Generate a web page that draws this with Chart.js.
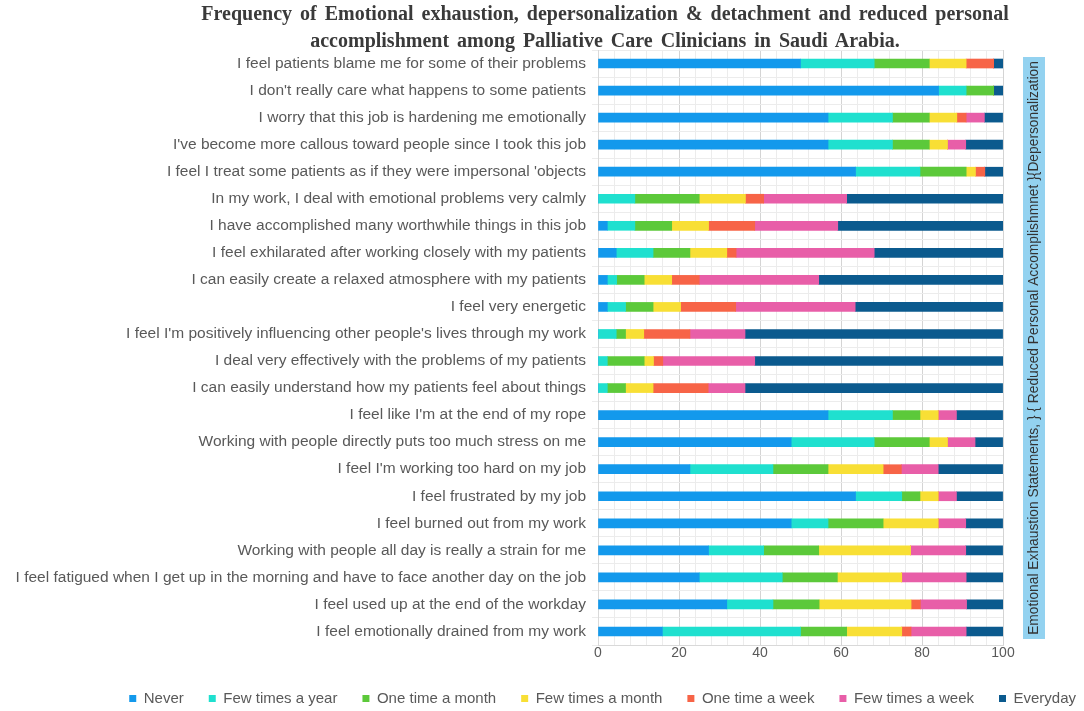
<!DOCTYPE html>
<html lang="en">
<head>
  <meta charset="UTF-8">
  <title>Burnout frequency among palliative care clinicians</title>
  <script src="https://cdn.jsdelivr.net/npm/chart.js"></script>
  <style>
    body {
      margin: 0;
      background: #fff;
    }
    #wrap {
      position: relative;
      width: 1084px;
      height: 711px;
      overflow: hidden;
    }
    #title {
      position: absolute;
      top: 0;
      left: 155px;
      width: 900px;
      text-align: center;
      font: bold 20px "Liberation Serif", serif;
      line-height: 27px;
      word-spacing: 3px;
      color: #3a3a3a;
    }
  </style>
</head>
<body>
  <div id="wrap">
    <canvas id="mbiChart" width="1084" height="711"></canvas>
    <div id="title">Frequency of Emotional exhaustion, depersonalization &amp; detachment and reduced personal<br>accomplishment among Palliative Care Clinicians in Saudi Arabia.</div>
  </div>

  <script>
    const statements = [
      "I feel patients blame me for some of their problems",
      "I don't really care what happens to some patients",
      "I worry that this job is hardening me emotionally",
      "I've become more callous toward people since I took this job",
      "I feel I treat some patients as if they were impersonal 'objects",
      "In my work, I deal with emotional problems very calmly",
      "I have accomplished many worthwhile things in this job",
      "I feel exhilarated after working closely with my patients",
      "I can easily create a relaxed atmosphere with my patients",
      "I feel very energetic",
      "I feel I'm positively influencing other people's lives through my work",
      "I deal very effectively with the problems of my patients",
      "I can easily understand how my patients feel about things",
      "I feel like I'm at the end of my rope",
      "Working with people directly puts too much stress on me",
      "I feel I'm working too hard on my job",
      "I feel frustrated by my job",
      "I feel burned out from my work",
      "Working with people all day is really a strain for me",
      "I feel fatigued when I get up in the morning and have to face another day on the job",
      "I feel used up at the end of the workday",
      "I feel emotionally drained from my work"
    ];

    // percentages, one value per statement (top to bottom)
    const never       = [50, 84.1, 56.8, 56.8, 63.6, 0, 2.3, 4.5, 2.3, 2.3, 0, 0, 0, 56.8, 47.7, 22.7, 63.6, 47.7, 27.3, 25, 31.8, 15.9];
    const fewYear     = [18.2, 6.8, 15.9, 15.9, 15.9, 9.1, 6.8, 9.1, 2.3, 4.5, 4.5, 2.3, 2.3, 15.9, 20.5, 20.5, 11.4, 9.1, 13.6, 20.5, 11.4, 34.1];
    const oneMonth    = [13.6, 6.8, 9.1, 9.1, 11.4, 15.9, 9.1, 9.1, 6.8, 6.8, 2.3, 9.1, 4.5, 6.8, 13.6, 13.6, 4.5, 13.6, 13.6, 13.6, 11.4, 11.4];
    const fewMonth    = [9.1, 0, 6.8, 4.5, 2.3, 11.4, 9.1, 9.1, 6.8, 6.8, 4.5, 2.3, 6.8, 4.5, 4.5, 13.6, 4.5, 13.6, 22.7, 15.9, 22.7, 13.6];
    const oneWeek     = [6.8, 0, 2.3, 0, 2.3, 4.5, 11.4, 2.3, 6.8, 13.6, 11.4, 2.3, 13.6, 0, 0, 4.5, 0, 0, 0, 0, 2.3, 2.3];
    const fewWeek     = [0, 0, 4.5, 4.5, 0, 20.5, 20.5, 34.1, 29.5, 29.5, 13.6, 22.7, 9.1, 4.5, 6.8, 9.1, 4.5, 6.8, 13.6, 15.9, 11.4, 13.6];
    const everyday    = [2.3, 2.3, 4.5, 9.1, 4.5, 38.6, 40.9, 31.8, 45.5, 36.4, 63.6, 61.4, 63.6, 11.4, 6.8, 15.9, 11.4, 9.1, 9.1, 9.1, 9.1, 9.1];

    const seriesNames = ["Never", "Few times a year", "One time a month", "Few times a month",
                         "One time a week", "Few times a week", "Everyday"];
    const seriesData = [never, fewYear, oneMonth, fewMonth, oneWeek, fewWeek, everyday];
    const seriesColors = ["#1399ec", "#1fe0cf", "#5cc93a", "#f8df35", "#f76447", "#e85ea8", "#0b5a8e"];

    const sideLabel = "Emotional Exhaustion Statements, } { Reduced Personal Accomplishmnet }{Depersonalization";

    const xTicks = [0, 20, 40, 60, 80, 100];

    // light blue box with the rotated group label on the right
    const sideLabelPlugin = {
      id: 'sideLabel',
      afterDraw(chart) {
        const ctx = chart.ctx;
        const area = chart.chartArea;
        const x = area.right + 20;
        const top = area.top + 7;
        const bottom = area.bottom - 6;
        ctx.save();
        ctx.fillStyle = '#93d2f0';
        ctx.fillRect(x, top, 22, bottom - top);
        ctx.translate(x + 11, (top + bottom) / 2);
        ctx.rotate(-Math.PI / 2);
        ctx.fillStyle = '#333';
        ctx.font = '13.8px "Liberation Sans", Arial';
        ctx.textAlign = 'center';
        ctx.textBaseline = 'middle';
        ctx.fillText(sideLabel, 0, 0);
        ctx.restore();
      }
    };

    const ctx = document.getElementById('mbiChart').getContext('2d');
    new Chart(ctx, {
      type: 'bar',
      data: {
        labels: statements,
        datasets: seriesNames.map((name, i) => ({
          label: name,
          data: seriesData[i],
          backgroundColor: seriesColors[i],
          barThickness: 9
        }))
      },
      options: {
        indexAxis: 'y',
        responsive: false,
        animation: false,
        layout: {
          padding: { top: 50, right: -17, bottom: -5, left: 0 }
        },
        plugins: {
          title: { display: false },
          tooltip: { enabled: false },
          legend: {
            position: 'bottom',
            align: 'end',
            labels: {
              boxWidth: 7,
              boxHeight: 7,
              padding: 25,
              color: '#595959',
              font: { family: '"Liberation Sans", Arial', size: 15 }
            }
          }
        },
        scales: {
          x: {
            stacked: true,
            min: 0,
            max: 100,
            border: { color: '#d9d9d9' },
            grid: {
              color: c => (c.tick && c.tick.value % 20 === 0) ? '#d4d4d4' : '#ececec',
              drawTicks: false
            },
            ticks: {
              stepSize: 4,
              autoSkip: false,
              maxRotation: 0,
              padding: 0,
              color: '#595959',
              font: { family: '"Liberation Sans", Arial', size: 14 },
              callback: v => xTicks.includes(v) ? v : ''
            },
            afterFit(scale) { scale.height = 21; }
          },
          y: {
            stacked: true,
            border: { color: '#d9d9d9' },
            grid: { color: '#ececec', drawTicks: true, tickLength: 6 },
            ticks: {
              autoSkip: false,
              padding: 6,
              color: '#595959',
              font: { family: '"Liberation Sans", Arial', size: 15.5 }
            },
            afterFit(scale) { scale.width = 598; }
          },
          side: {
            type: 'category',
            axis: 'y',
            position: 'right',
            grid: { display: false },
            border: { display: false },
            ticks: { display: false },
            afterFit(scale) { scale.width = 98; }
          }
        }
      },
      plugins: [sideLabelPlugin]
    });
  </script>
</body>
</html>
